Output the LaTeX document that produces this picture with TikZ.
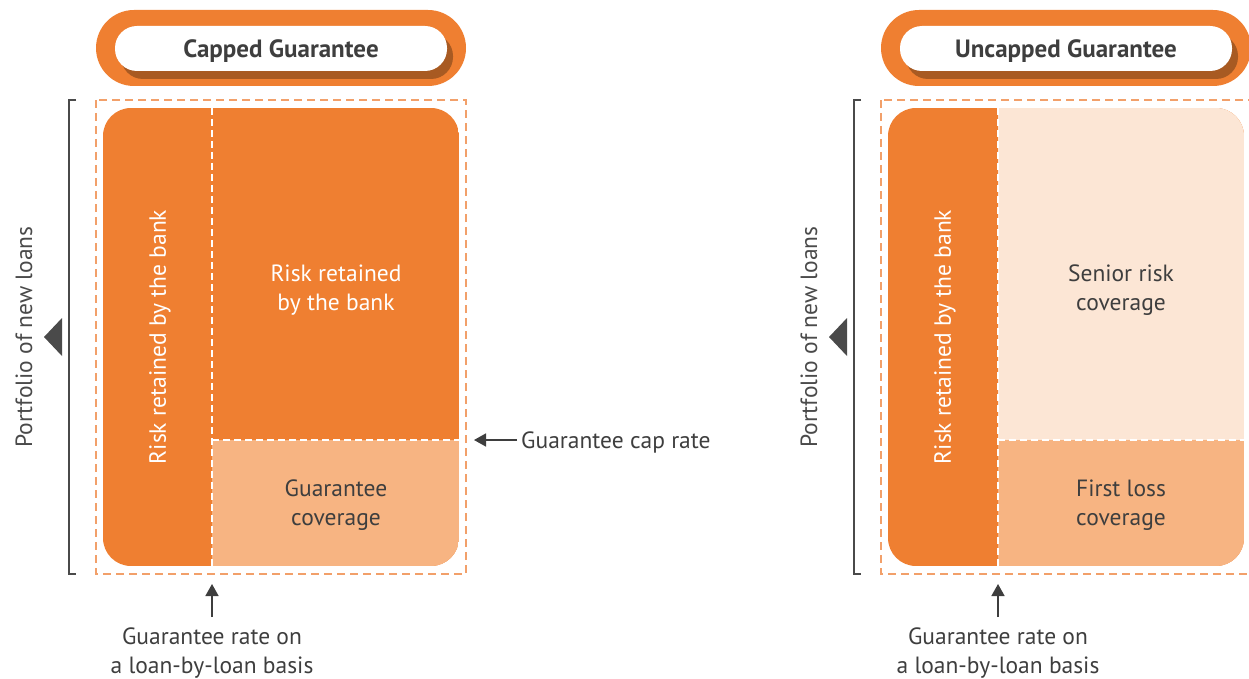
\documentclass[tikz,border=0pt]{standalone}
\usepackage{fontspec}
\setmainfont{PT Sans}
\usetikzlibrary{arrows.meta, positioning}

\definecolor{bankorange}{HTML}{EF7F31}
\definecolor{lightorange}{HTML}{F7B482}
\definecolor{peach}{HTML}{FCE6D5}
\definecolor{shadowbrown}{HTML}{A85A22}
\definecolor{boxdash}{HTML}{F2A06A}
\definecolor{textgray}{HTML}{3E3E3E}
\definecolor{linegray}{HTML}{4A4A4A}

\begin{document}
\begin{tikzpicture}[x=1pt, y=-1pt, font=\fontsize{23.5}{29}\selectfont]
		\tikzstyle{titletext} = [font=\fontsize{25}{29}\selectfont\bfseries, text=textgray]
		\tikzstyle{dark} = [text=textgray, align=center]
		\tikzstyle{light} = [text=white, align=center]
		\tikzstyle{side} = [text=linegray, rotate=90]
		\tikzstyle{dashbox} = [draw=boxdash, line width=1.2pt, dash pattern=on 8pt off 5pt]
		\tikzstyle{split} = [draw=white, line width=1.2pt, dash pattern=on 7pt off 4pt]
		\tikzstyle{bracket} = [draw=linegray, line width=1.2pt]
		\tikzstyle{pointer} = [draw=textgray, line width=1.6pt, -{Triangle[length=12pt, width=13pt]}]
		
		\useasboundingbox (0,0) rectangle (1249,679);
		
		% capped guarantee
		\fill[bankorange, rounded corners=38] (96,10) rectangle (466,86);
		\fill[shadowbrown, rounded corners=22] (121,34) rectangle (453,79);
		\fill[white, rounded corners=22] (115,26) rectangle (447,71);
		\node[titletext] at (281,51) (capped) {Capped Guarantee};
		
		\draw[dashbox] (96,100) rectangle (466,574);
		\draw[bracket] (76,100) -- (69,100) -- (69,574) -- (76,574);
		\fill[linegray] (44,337) -- (62,318) -- (62,356) -- cycle;
		\node[side] at (24,337) (portA) {Portfolio of new loans};
		
		\begin{scope}
			\clip[rounded corners=28] (103,108) rectangle (459,566);
			\fill[bankorange] (103,108) rectangle (459,566);
			\fill[lightorange] (212,440) rectangle (459,566);
		\end{scope}
		\draw[split] (212,108) -- (212,566);
		\draw[split] (212,440) -- (459,440);
		
		\node[light, rotate=90] at (160,337) (bankA) {Risk retained by the bank};
		\node[light] at (336,290) (retained) {Risk retained\\by the bank};
		\node[dark] at (336,505) (coverage) {Guarantee\\coverage};
		
		\coordinate (captip) at (474,440);
		\node[dark, anchor=west, inner sep=4pt] at (517,442) (caprate) {Guarantee cap rate};
		\draw[pointer] (caprate.west |- captip) -- (captip);
		
		\coordinate (ratetipA) at (212,584);
		\node[dark, anchor=north, inner sep=2pt] at (212,626) (rateA) {Guarantee rate on\\a loan-by-loan basis};
		\draw[pointer] ([yshift=9pt]rateA.north) -- (ratetipA);
		
		% uncapped guarantee
		\fill[bankorange, rounded corners=38] (881,10) rectangle (1251,86);
		\fill[shadowbrown, rounded corners=22] (906,34) rectangle (1238,79);
		\fill[white, rounded corners=22] (900,26) rectangle (1232,71);
		\node[titletext] at (1066,51) (uncapped) {Uncapped Guarantee};
		
		\draw[dashbox] (881,100) rectangle (1251,574);
		\draw[bracket] (861,100) -- (854,100) -- (854,574) -- (861,574);
		\fill[linegray] (829,337) -- (847,318) -- (847,356) -- cycle;
		\node[side] at (809,337) (portB) {Portfolio of new loans};
		
		\begin{scope}
			\clip[rounded corners=28] (888,108) rectangle (1244,566);
			\fill[bankorange] (888,108) rectangle (1244,566);
			\fill[peach] (998,108) rectangle (1244,440);
			\fill[lightorange] (998,440) rectangle (1244,566);
		\end{scope}
		\draw[split] (998,108) -- (998,566);
		\draw[split] (998,440) -- (1244,440);
		
		\node[light, rotate=90] at (945,337) (bankB) {Risk retained by the bank};
		\node[dark] at (1121,290) (senior) {Senior risk\\coverage};
		\node[dark] at (1121,505) (firstloss) {First loss\\coverage};
		
		\coordinate (ratetipB) at (998,584);
		\node[dark, anchor=north, inner sep=2pt] at (998,626) (rateB) {Guarantee rate on\\a loan-by-loan basis};
		\draw[pointer] ([yshift=9pt]rateB.north) -- (ratetipB);
	\end{tikzpicture}
\end{document}
